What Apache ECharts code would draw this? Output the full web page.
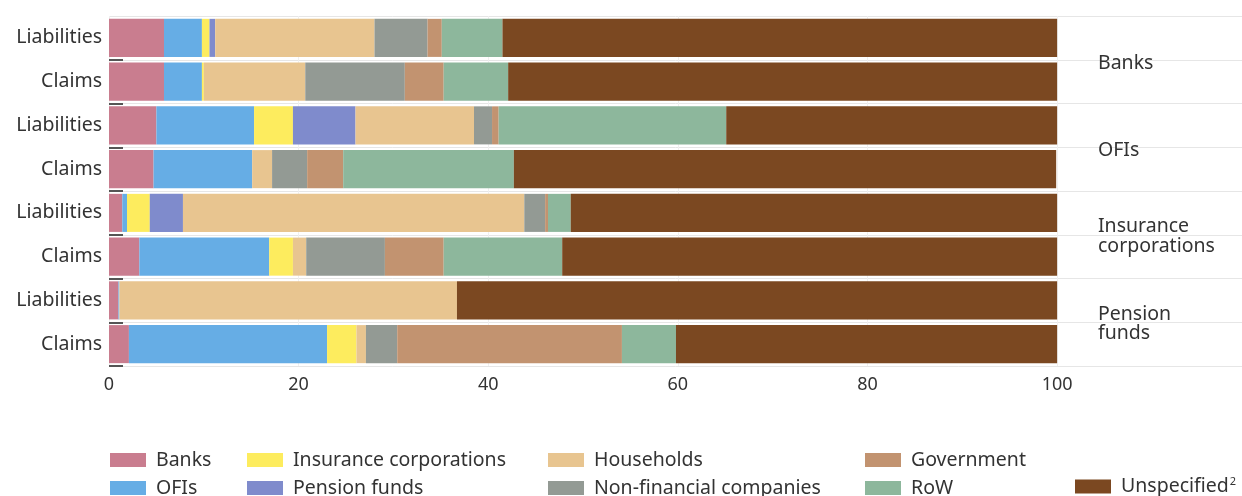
<!DOCTYPE html>
<html>
<head>
<meta charset="utf-8">
<script src="https://cdn.jsdelivr.net/npm/echarts@6/dist/echarts.min.js"></script>
<style>
html,body{margin:0;padding:0;background:#fff;}
#c{width:1242px;height:496px;}
</style>
</head>
<body>
<div id="c"></div>
<script>
// Row labels (top to bottom)
const rowLabels = ['Liabilities','Claims','Liabilities','Claims','Liabilities','Claims','Liabilities','Claims'];
const groupLabels = ['Banks','OFIs','Insurance\ncorporations','Pension\nfunds'];
const xTicks = [0,20,40,60,80,100];

// Series values (% shares) per row, top to bottom
const banks       = [5.8, 5.8, 5.0, 4.7, 1.4, 3.2, 1.0, 2.1];
const ofis        = [4.0, 4.0, 10.3, 10.4, 0.5, 13.7, 0.1, 20.9];
const insurance   = [0.8, 0.2, 4.1, 0, 2.4, 2.5, 0, 3.1];
const pension     = [0.6, 0, 6.6, 0, 3.5, 0, 0, 0];
const households  = [16.8, 10.7, 12.5, 2.1, 36.0, 1.4, 35.6, 1.0];
const nonfin      = [5.6, 10.5, 1.9, 3.7, 2.2, 8.3, 0, 3.3];
const government  = [1.5, 4.1, 0.7, 3.8, 0.3, 6.2, 0, 23.7];
const row         = [6.4, 6.8, 24.0, 18.0, 2.4, 12.5, 0, 5.7];
const unspecified = [58.5, 57.9, 34.9, 57.2, 51.3, 52.2, 63.3, 40.2];

const seriesDefs = [
  ['Banks', banks, '#c97d8f'],
  ['OFIs', ofis, '#66ade5'],
  ['Insurance corporations', insurance, '#fdec5e'],
  ['Pension funds', pension, '#7f8bcc'],
  ['Households', households, '#e8c590'],
  ['Non-financial companies', nonfin, '#939a94'],
  ['Government', government, '#c29370'],
  ['RoW', row, '#8db79c'],
  ['Unspecified', unspecified, '#7b4821']
];

const FONT = 'Noto Sans';
const FS = 19.5;
const chart = echarts.init(document.getElementById('c'), null, {renderer:'canvas'});

function legend(names, left, top){
  return {
    data: names, left: left, top: top, orient: 'vertical', height: 80, padding: 0,
    itemWidth: 36, itemHeight: 14, itemGap: 8, selectedMode: false,
    icon: 'rect',
    textStyle: {fontFamily: FONT, fontSize: FS, color: '#333', padding: [0,0,0,5],
      rich: {a:{fontFamily: FONT, fontSize: FS, color:'#333'},
             s:{fontFamily: FONT, fontSize: 11, color:'#333', verticalAlign:'top', padding:[0,0,10,1]}}},
    formatter: function(n){ return n === 'Unspecified' ? '{a|Unspecified}{s|2}' : n; }
  };
}

chart.setOption({
  animation: false,
  backgroundColor: '#fff',
  grid: {left: 109, top: 16, width: 1133, height: 350, containLabel: false, outerBoundsMode: 'none'},
  xAxis: {
    type: 'value', min: 0, max: 119.5, interval: 20,
    axisLine: {show: false}, axisTick: {show: false},
    axisLabel: {fontFamily: FONT, fontSize: 18, color: '#333', margin: 10, showMaxLabel: false,
      formatter: function(v){ return xTicks.indexOf(v) >= 0 ? String(v) : ''; }},
    splitLine: {show: true, lineStyle: {color: ['#f0f0f0','#f0f0f0','#f0f0f0','#f0f0f0','#f0f0f0','#f0f0f0','rgba(0,0,0,0)'], width: 1}}
  },
  yAxis: [{
    type: 'category', data: rowLabels, inverse: true,
    axisLine: {show: false},
    axisTick: {show: true, inside: true, length: 14, lineStyle: {color: '#555', width: 2},
      interval: function(i){ return i !== 0; }},
    axisLabel: {fontFamily: FONT, fontSize: FS, color: '#333', margin: 7},
    splitLine: {show: true, lineStyle: {color: '#e6e6e6', width: 1}}
  },{
    type: 'category', data: groupLabels, inverse: true, position: 'right', offset: -144,
    axisLine: {show: false}, axisTick: {show: false}, splitLine: {show: false},
    axisLabel: {fontFamily: FONT, fontSize: FS, color: '#333', margin: 0, align: 'left',
      formatter: function(v){
        return v.split('\n').map(function(l, i){ return (i === 0 ? '{f|' : '{g|') + l + '}'; }).join('\n');
      },
      rich: {
        f: {fontFamily: FONT, fontSize: FS, color: '#333', lineHeight: 23, padding: [7,0,0,0]},
        g: {fontFamily: FONT, fontSize: FS, color: '#333', lineHeight: 23}
      }}
  }],
  legend: [
    legend(['Banks','OFIs'], 110, 450),
    legend(['Insurance corporations','Pension funds'], 247, 450),
    legend(['Households','Non-financial companies'], 548, 450),
    legend(['Government','RoW'], 865, 450),
    legend(['Unspecified'], 1075, 476)
  ],
  series: seriesDefs.map(function(d){
    return {name: d[0], type: 'bar', stack: 'all', data: d[1], barCategoryGap: '13%',
      itemStyle: {color: d[2]}, yAxisIndex: 0};
  })
});
</script>
</body>
</html>
